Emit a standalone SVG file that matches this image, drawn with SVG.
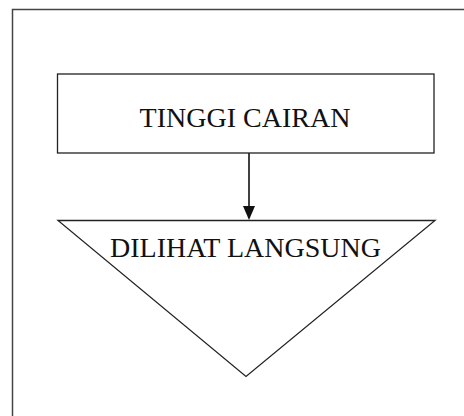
<svg xmlns="http://www.w3.org/2000/svg" width="464" height="416" viewBox="0 0 464 416">
  <style>
    .frame { fill: none; stroke: #444; stroke-width: 1.5; }
    .shape { fill: #fff; stroke: #222; stroke-width: 1.3; }
    .label { font-family: "Liberation Serif", "Times New Roman", serif; font-size: 28px; fill: #111; text-anchor: middle; }
    .conn { stroke: #111; stroke-width: 1.6; fill: none; }
  </style>
  <defs>
    <marker id="arrow" markerWidth="12" markerHeight="14" refX="6" refY="13" orient="auto" markerUnits="userSpaceOnUse" viewBox="0 0 12 14">
      <path d="M0,0 L12,0 L6,14 Z" fill="#111"/>
    </marker>
  </defs>
  <rect class="frame" x="12.5" y="9.5" width="470" height="420"/>
  <g id="connectors">
    <line class="conn" x1="249" y1="153" x2="249" y2="207"/>
    <path d="M243,206 L255,206 L249,220 Z" fill="#111"/>
  </g>
  <g id="node-tinggi-cairan">
    <rect class="shape" x="57.5" y="74" width="376.5" height="79"/>
    <text class="label" x="245" y="127">TINGGI CAIRAN</text>
  </g>
  <g id="node-dilihat-langsung">
    <polygon class="shape" points="58,220.5 435,220.5 246,376.5"/>
    <text class="label" x="245.5" y="256.5">DILIHAT LANGSUNG</text>
  </g>
</svg>
